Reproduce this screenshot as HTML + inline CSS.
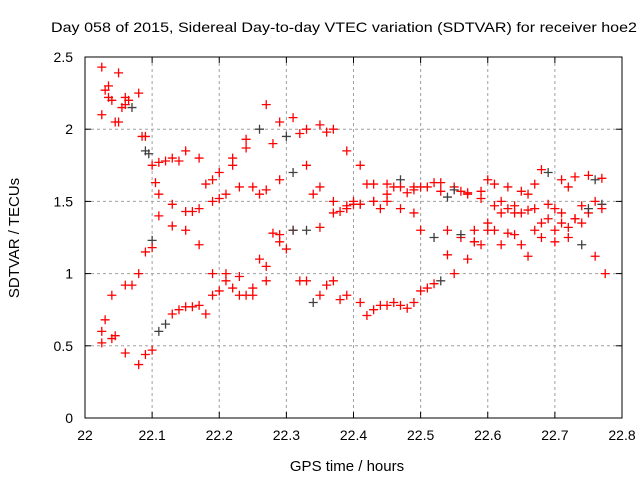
<!DOCTYPE html>
<html><head><meta charset="utf-8"><style>
body{margin:0;background:#fff}
svg{display:block;font-family:"Liberation Sans",sans-serif}
</style></head><body>
<svg id="c" width="640" height="480">
<text x="344" y="32" font-size="14" text-anchor="middle" textLength="586" lengthAdjust="spacingAndGlyphs">Day 058 of 2015, Sidereal Day-to-day VTEC variation (SDTVAR) for receiver hoe2</text>
<text x="347" y="471" font-size="15" text-anchor="middle">GPS time / hours</text>
<text x="0" y="0" font-size="15" text-anchor="middle" transform="translate(19,238) rotate(-90)">SDTVAR / TECUs</text>
<g id="grid"></g><g id="marks"></g>
<rect x="85" y="57" width="537" height="361" fill="none" stroke="#000" stroke-width="1"/>
</svg>
<script>
const xTicks=[22,22.1,22.2,22.3,22.4,22.5,22.6,22.7,22.8];
const xTickLabels=["22","22.1","22.2","22.3","22.4","22.5","22.6","22.7","22.8"];
const yTicks=[0,0.5,1,1.5,2,2.5];
const yTickLabels=["0","0.5","1","1.5","2","2.5"];
const xsA=[22.025,22.03,22.04,22.05,22.06,22.07,22.09,22.1,22.11,22.13,22.15,22.17,22.19,22.2,22.22,22.24,22.26,22.27,22.29,22.31,22.33,22.35,22.37,22.39,22.41,22.43,22.45,22.47,22.49,22.5,22.53,22.55,22.57,22.59,22.61,22.63,22.65,22.67,22.69,22.71,22.73,22.75,22.77];
const seriesA=[2.43,2.27,2.2,2.39,2.22,2.15,1.95,1.75,1.77,1.8,1.85,1.8,1.65,1.7,1.8,1.87,2.0,2.17,2.05,2.08,2.0,2.03,2.0,1.85,1.75,1.62,1.62,1.65,1.6,1.6,1.63,1.6,1.56,1.57,1.62,1.6,1.57,1.62,1.7,1.65,1.67,1.68,1.66];
const xsB=[22.025,22.035,22.05,22.06,22.08,22.09,22.11,22.13,22.15,22.17,22.19,22.21,22.23,22.25,22.27,22.29,22.31,22.33,22.35,22.37,22.39,22.41,22.43,22.45,22.47,22.49,22.5,22.52,22.54,22.56,22.58,22.6,22.62,22.64,22.66,22.68,22.7,22.72,22.74,22.76,22.775];
const seriesB=[2.1,2.22,2.05,2.17,2.25,1.85,1.55,1.48,1.43,1.45,1.5,1.55,1.6,1.6,1.58,1.65,1.7,1.75,1.6,1.5,1.45,1.48,1.5,1.5,1.45,1.42,1.3,1.25,1.3,1.25,1.22,1.35,1.42,1.47,1.44,1.35,1.3,1.25,1.2,1.12,1.0];
const xsC=[22.025,22.04,22.06,22.08,22.1,22.11,22.13,22.15,22.17,22.19,22.21,22.23,22.25,22.27,22.29,22.31,22.33,22.35,22.37,22.39,22.41,22.43,22.45,22.47,22.49,22.51,22.53,22.55,22.57,22.59,22.61,22.63,22.65,22.67,22.69,22.71,22.73,22.75,22.77];
const seriesC=[0.52,0.55,0.45,0.37,0.47,0.6,0.72,0.77,0.78,0.85,0.95,0.85,0.9,1.05,1.22,1.3,1.3,1.32,1.42,1.47,1.48,1.5,1.55,1.6,1.58,1.6,1.57,1.58,1.55,1.52,1.47,1.45,1.42,1.45,1.48,1.42,1.38,1.42,1.48];
const xsD=[22.025,22.04,22.06,22.08,22.09,22.1,22.11,22.13,22.15,22.17,22.19,22.21,22.23,22.25,22.27,22.29,22.31,22.33,22.35,22.37,22.39,22.41,22.43,22.45,22.47,22.49,22.51,22.53,22.55,22.57,22.59,22.61,22.63,22.65,22.67,22.69,22.71,22.73,22.75,22.77];
const seriesD=[0.6,0.85,0.92,1.0,1.15,1.23,1.4,1.33,1.3,1.2,1.0,1.0,0.98,0.85,0.95,1.27,1.3,0.95,0.85,0.95,0.85,0.8,0.75,0.78,0.78,0.8,0.9,0.95,1.0,1.1,1.2,1.3,1.28,1.2,1.3,1.38,1.35,1.38,1.45,1.45];
const xsE=[22.035,22.045,22.055,22.065,22.085,22.095,22.105,22.12,22.14,22.16,22.18,22.2,22.22,22.24,22.26,22.28,22.3,22.32,22.34,22.36,22.38,22.4,22.42,22.44,22.46,22.48,22.52,22.54,22.56,22.58,22.6,22.62,22.64,22.66,22.68,22.7,22.72,22.74,22.76];
const seriesE=[2.3,2.05,2.15,2.2,1.95,1.83,1.63,1.78,1.78,1.43,1.62,1.52,1.75,1.93,1.55,1.9,1.95,1.97,1.55,1.98,1.43,1.5,1.62,1.45,1.6,1.56,1.63,1.53,1.57,1.3,1.65,1.5,1.42,1.55,1.72,1.45,1.6,1.47,1.65];
const xsF=[22.03,22.045,22.07,22.09,22.1,22.12,22.14,22.16,22.18,22.2,22.22,22.24,22.26,22.28,22.3,22.32,22.34,22.36,22.38,22.4,22.42,22.44,22.46,22.48,22.5,22.52,22.54,22.56,22.58,22.6,22.62,22.64,22.66,22.68,22.7,22.72,22.74,22.76];
const seriesF=[0.68,0.57,0.92,0.44,1.18,0.65,0.75,0.77,0.72,0.88,0.9,0.85,1.1,1.28,1.17,0.95,0.8,0.92,0.82,1.48,0.71,0.78,0.8,0.76,0.88,0.93,1.13,1.27,1.22,1.3,1.2,1.27,1.12,1.25,1.22,1.32,1.35,1.5];
const L=85,R=622,T=57,B=418;
const sx=v=>L+(v-22)/(0.8)*(R-L);
const sy=v=>B-v/2.5*(B-T);
const NS="http://www.w3.org/2000/svg";
const grid=document.getElementById('grid'),marks=document.getElementById('marks');
function mk(tag,at,parent){const e=document.createElementNS(NS,tag);for(const k in at)e.setAttribute(k,at[k]);parent.appendChild(e);return e;}
xTicks.forEach((t,i)=>{const x=sx(t);
 if(i>0&&i<xTicks.length-1){const g=mk('line',{x1:x,x2:x,y1:T,y2:B,stroke:'#a0a0a0','stroke-dasharray':'3,3'},grid);
 
 }
 mk('line',{x1:x,x2:x,y1:B,y2:B-6,stroke:'#000'},grid);mk('line',{x1:x,x2:x,y1:T,y2:T+6,stroke:'#000'},grid);
 const tx=mk('text',{x:x,y:B+22,'font-size':14,'text-anchor':'middle'},grid);tx.textContent=xTickLabels[i];
 
 });
yTicks.forEach((t,i)=>{const y=sy(t);
 if(i>0&&i<yTicks.length-1){const g=mk('line',{x1:L,x2:R,y1:y,y2:y,stroke:'#a0a0a0','stroke-dasharray':'3,3'},grid);
 
 }
 mk('line',{x1:L,x2:L+6,y1:y,y2:y,stroke:'#000'},grid);mk('line',{x1:R,x2:R-6,y1:y,y2:y,stroke:'#000'},grid);
 const tx=mk('text',{x:L-12,y:y+5,'font-size':14,'text-anchor':'end'},grid);tx.textContent=yTickLabels[i];
 
 });
function plot(xs,ys,name){xs.forEach((xv,i)=>{const x=sx(xv),y=sy(ys[i]);
 const col=(i%11==5)?'#404040':'#ff0000';
 const p=mk('path',{d:`M${x-4.5},${y}H${x+4.5}M${x},${y-4.5}V${y+4.5}`,stroke:col,'stroke-width':1.3,fill:'none'},marks);
 
 });}
plot(xsA,seriesA,'series-a');plot(xsB,seriesB,'series-b');plot(xsC,seriesC,'series-c');plot(xsD,seriesD,'series-d');plot(xsE,seriesE,'series-e');plot(xsF,seriesF,'series-f');
</script>
</body></html>
